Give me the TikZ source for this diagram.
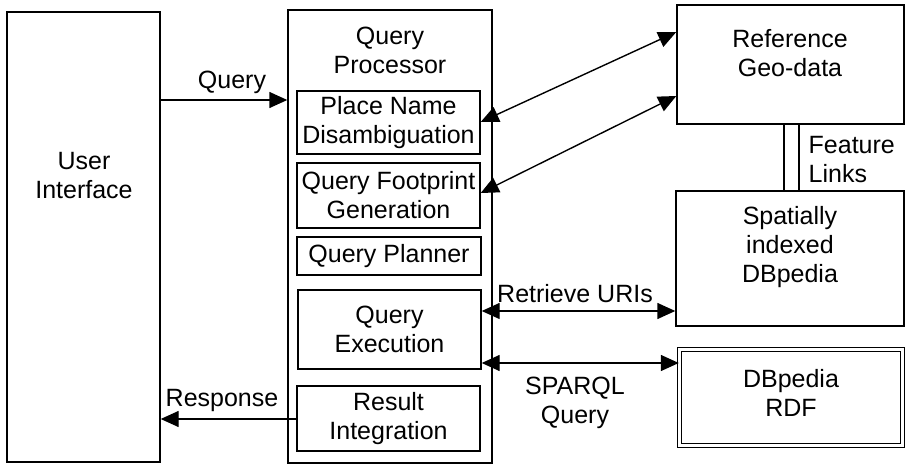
\documentclass[tikz,border=0pt]{standalone}
\usepackage{fontspec}
\setmainfont{Liberation Sans}
\usetikzlibrary{arrows.meta,calc}
\begin{document}
\begin{tikzpicture}[x=1pt,y=-1pt,
  font=\fontsize{25}{29}\selectfont,
  line width=1.4pt,
  >={Triangle[length=18pt,width=16pt]},
  box/.style={draw, inner sep=0pt, align=center},
  txt/.style={inner sep=0pt, align=center}]
\useasboundingbox (0,0) rectangle (906,465);
% main boxes
\node[box, minimum width=153pt, minimum height=450pt] (ui) at (83.5,237) {};
\node[txt] (uit) at (84,176) {User\\Interface};
\node[box, minimum width=204pt, minimum height=453pt] (qp) at (390,236.5) {};
\node[txt] (qpt) at (390,50) {Query\\Processor};
% sub boxes
\node[box, minimum width=183pt, minimum height=63pt] (pnd) at (388.5,122.5) {Place Name\\Disambiguation};
\node[box, minimum width=183pt, minimum height=65pt] (qfg) at (388.5,195.5) {Query Footprint\\Generation};
\node[box, minimum width=184pt, minimum height=38pt] (qpl) at (389,256) {Query Planner};
\node[box, minimum width=183pt, minimum height=79pt] (qex) at (389.5,329.5) {Query\\Execution};
\node[box, minimum width=183pt, minimum height=65pt] (rin) at (388.5,418.5) {Result\\Integration};
% right boxes
\node[box, minimum width=227pt, minimum height=119pt] (ref) at (790.5,64.5) {};
\node[txt] (reft) at (790,53) {Reference\\Geo-data};
\node[box, minimum width=228pt, minimum height=135pt] (sid) at (790,258.5) {};
\node[txt] (sidt) at (790,247) {Spatially\\indexed\\DBpedia};
\node[box, double, double distance=2.5pt, minimum width=223pt, minimum height=96pt] (rdf) at (791,397.5) {};
\node[txt] (rdft) at (791,393) {DBpedia\\RDF};
% feature links
\draw ([xshift=-6.5pt]ref.south) -- ([xshift=-6.5pt]ref.south |- sid.north);
\draw ([xshift=8.5pt]ref.south) -- ([xshift=8.5pt]ref.south |- sid.north);
\node[txt, anchor=west, align=left] (fl) at (808,160) {Feature\\Links};
% arrows
\draw[->] (ui.east |- 0,100) -- (qp.west |- 0,100);
\node[txt] (ql) at (232,82) {Query};
\draw[->] (rin.west |- 0,419) -- (ui.east |- 0,419);
\node[txt] (rl) at (222,400) {Response};
\draw[<->] (pnd.east |- 0,122) -- (ref.west |- 0,32);
\draw[<->] (qfg.east |- 0,193) -- (ref.west |- 0,96);
\draw[<->] (qex.east |- 0,311) -- (sid.west |- 0,311);
\node[txt] (rul) at (575,294) {Retrieve URIs};
\draw[<->] (qex.east |- 0,363) -- (rdf.west |- 0,363);
\node[txt] (sql) at (575,403) {SPARQL\\Query};
\end{tikzpicture}
\end{document}
